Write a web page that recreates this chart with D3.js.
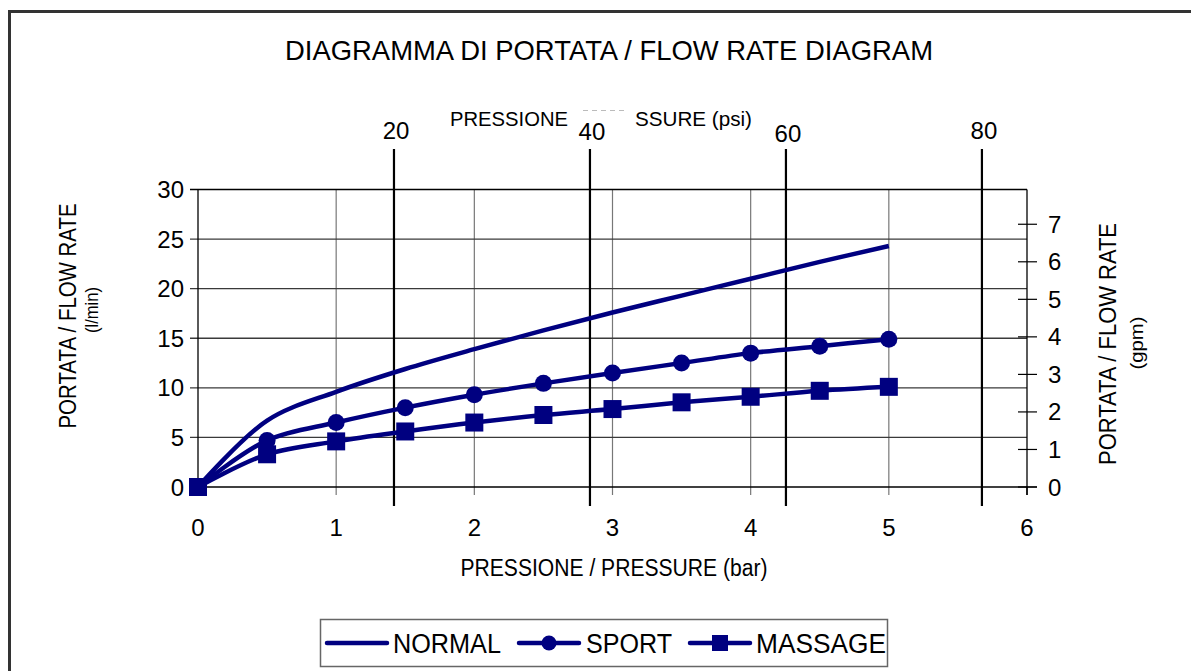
<!DOCTYPE html>
<html><head><meta charset="utf-8">
<script src="https://cdn.jsdelivr.net/npm/d3@7"></script>
<style>body{margin:0;background:#fff}svg{display:block}text{font-family:"Liberation Sans",Arial,sans-serif;fill:#000}</style>
</head><body><svg id="c" width="1191" height="671"></svg>
<script>
const pressureBar = [0,0.5,1,1.5,2,2.5,3,3.5,4,4.5,5];
const normalFlow  = [0,6.7,9.6,11.9,13.9,15.8,17.6,19.3,21.0,22.7,24.3];
const sportFlow   = [0,4.7,6.5,8.0,9.3,10.45,11.5,12.5,13.5,14.2,14.9];
const massageFlow = [0,3.3,4.6,5.6,6.5,7.26,7.86,8.54,9.1,9.7,10.1];
const barTicks = [0,1,2,3,4,5,6];
const lminTicks = [0,5,10,15,20,25,30];
const gpmTicks = [0,1,2,3,4,5,6,7];
const psiTicks = [20,40,60,80];
const seriesNames = ["NORMAL","SPORT","MASSAGE"];
const LPM_PER_GPM = 3.785;
const PSI_PER_BAR = 14.1;

const svg = d3.select("#c");
const navy = "#000080";
const x = d3.scaleLinear([0,6],[198,1027]);
const y = d3.scaleLinear([0,30],[487,189.5]);
const yg = d3.scaleLinear([0,30/LPM_PER_GPM],[487,189.5]);
const xp = d3.scaleLinear([0,6*PSI_PER_BAR],[198,1027]);

function txt(parent, s, size, len, anchor){
  const t = parent.append("text").attr("font-size",size).attr("text-anchor",anchor||"start").text(s);
  if(len) t.attr("textLength",len).attr("lengthAdjust","spacingAndGlyphs");
  return t;
}

// outer frame
svg.append("path").attr("d","M9.5,700 V11.5 H1200").attr("fill","none").attr("stroke","#333").attr("stroke-width",3);

// title
txt(svg,"DIAGRAMMA DI PORTATA / FLOW RATE DIAGRAM",28,648,"middle").attr("x",609).attr("y",60);

const g = svg.append("g");
g.selectAll(".vg").data(barTicks.filter(d=>d>0&&d<6)).join("line")
 .attr("x1",d=>x(d)).attr("x2",d=>x(d)).attr("y1",y(30)).attr("y2",y(0)+8)
 .attr("stroke","#777").attr("stroke-width",1.2);
g.selectAll(".hg").data(lminTicks).join("line")
 .attr("x1",x(0)-8).attr("x2",x(6)).attr("y1",d=>y(d)).attr("y2",d=>y(d))
 .attr("stroke",d=>d===30||d===0?"#000":"#3a3a3a").attr("stroke-width",1.4);
g.append("line").attr("x1",x(0)).attr("x2",x(0)).attr("y1",y(30)).attr("y2",y(0)).attr("stroke","#000").attr("stroke-width",1.3);
g.append("line").attr("x1",x(6)).attr("x2",x(6)).attr("y1",y(30)).attr("y2",y(0)+8).attr("stroke","#000").attr("stroke-width",1.3);
g.selectAll(".bt").data([0,6]).join("line").attr("x1",d=>x(d)).attr("x2",d=>x(d)).attr("y1",y(0)).attr("y2",y(0)+8).attr("stroke","#000").attr("stroke-width",1.3);
g.selectAll(".gt").data(gpmTicks).join("line").attr("x1",x(6)-9).attr("x2",x(6)+10)
 .attr("y1",d=>yg(d)).attr("y2",d=>yg(d)).attr("stroke","#000").attr("stroke-width",1.2);
g.append("line").attr("x1",x(6)).attr("x2",x(6)+10).attr("y1",y(0)).attr("y2",y(0)).attr("stroke","#000").attr("stroke-width",1.3);

// psi lines
g.selectAll(".pl").data(psiTicks).join("line").attr("x1",d=>xp(d)).attr("x2",d=>xp(d))
 .attr("y1",149).attr("y2",506).attr("stroke","#000").attr("stroke-width",2.2);

// tick labels
svg.selectAll(".yl").data(lminTicks).join("text").attr("x",184).attr("y",d=>y(d)+8.5).attr("text-anchor","end").attr("font-size",24).text(d=>d);
svg.selectAll(".xl").data(barTicks).join("text").attr("x",d=>x(d)).attr("y",536).attr("text-anchor","middle").attr("font-size",24).text(d=>d);
svg.selectAll(".gl").data(gpmTicks).join("text").attr("x",1048).attr("y",d=>yg(d)+8.5).attr("font-size",24).text(d=>d);

// psi title (middle part hidden behind the "40" label box in the original)
txt(svg,"PRESSIONE",20,118).attr("x",450).attr("y",126);
txt(svg,"SSURE (psi)",20,117).attr("x",635).attr("y",126);
svg.append("line").attr("x1",583).attr("x2",628).attr("y1",110.5).attr("y2",110.5).attr("stroke","#bbb").attr("stroke-dasharray","5,4");
const psiY = {20:139,40:140,60:142,80:139};
svg.selectAll(".pt").data(psiTicks).join("text").attr("x",d=>xp(d)+2).attr("y",d=>psiY[d]).attr("text-anchor","middle").attr("font-size",24).text(d=>d);

// axis titles
txt(svg,"PRESSIONE / PRESSURE (bar)",23,307,"middle").attr("x",614).attr("y",576);
txt(svg,"PORTATA / FLOW RATE",23,225,"middle").attr("transform","translate(76,316) rotate(-90)");
txt(svg,"(l/min)",18,46,"middle").attr("transform","translate(98,310) rotate(-90)");
txt(svg,"PORTATA / FLOW RATE",23,242,"middle").attr("transform","translate(1116,344) rotate(-90)");
txt(svg,"(gpm)",18,53,"middle").attr("transform","translate(1143,343) rotate(-90)");

// series
const line = d3.line().x(d=>x(d[0])).y(d=>y(d[1])).curve(d3.curveCatmullRom.alpha(0.5));
const series = [normalFlow, sportFlow, massageFlow].map(v=>pressureBar.map((p,i)=>[p,v[i]]));
const pg = svg.append("g");
series.forEach(s=>{
  pg.append("path").attr("d",line(s)).attr("fill","none").attr("stroke",navy).attr("stroke-width",4.5).attr("stroke-linejoin","round");
});
pg.selectAll(".c").data(series[1]).join("circle").attr("cx",d=>x(d[0])).attr("cy",d=>y(d[1])).attr("r",8.5).attr("fill",navy);
pg.selectAll(".s").data(series[2]).join("rect").attr("x",d=>x(d[0])-9).attr("y",d=>y(d[1])-9).attr("width",18).attr("height",18).attr("fill",navy);

// legend
const lg = svg.append("g");
lg.append("rect").attr("x",320.5).attr("y",619.5).attr("width",567).attr("height",47).attr("fill","#fff").attr("stroke","#666").attr("stroke-width",1.5);
const legX = [327,519,690];
const textX = [393,586,756];
const textW = [108,86,130];
seriesNames.forEach((n,i)=>{
  lg.append("line").attr("x1",legX[i]).attr("x2",legX[i]+60).attr("y1",643).attr("y2",643).attr("stroke",navy).attr("stroke-width",4.5).attr("stroke-linecap","round");
  if(i===1) lg.append("circle").attr("cx",legX[i]+30).attr("cy",643).attr("r",7.5).attr("fill",navy);
  if(i===2) lg.append("rect").attr("x",legX[i]+22).attr("y",635).attr("width",16).attr("height",16).attr("fill",navy);
  txt(lg,n,27,textW[i]).attr("x",textX[i]).attr("y",653);
});
</script></body></html>
